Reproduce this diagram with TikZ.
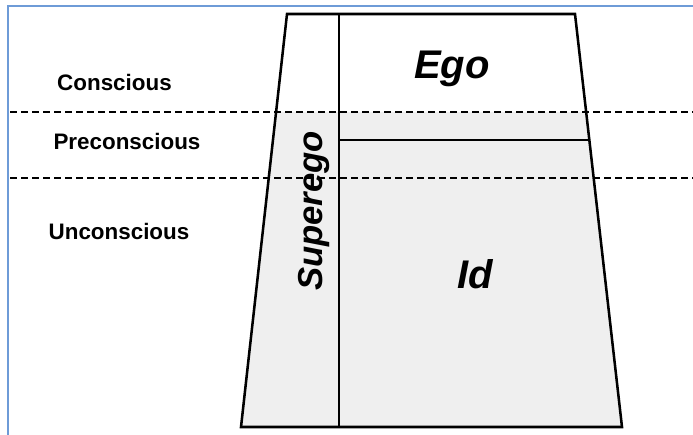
\documentclass[tikz,border=0pt]{standalone}
\usepackage{fontspec}
\setmainfont{Liberation Sans}
\definecolor{frameblue}{RGB}{110,155,215}
\definecolor{mindgray}{RGB}{239,239,239}

\begin{document}
\begin{tikzpicture}[x=0.75pt, y=-0.75pt,
		level/.style={font=\fontsize{16.8}{18}\selectfont\bfseries, inner sep=0pt, anchor=base},
		part/.style={font=\fontsize{30}{32}\selectfont\bfseries\itshape, inner sep=0pt, anchor=base},
		border/.style={line width=1.9pt, line join=miter},
		divide/.style={line width=1.6pt, dash pattern=on 5.25pt off 3pt}]
		\useasboundingbox (0,0) rectangle (693,435);
		% frame of the slide
		\draw[frameblue, line width=1.2pt] (8,435) -- (8,6) -- (693,6);
		% corners of the mind
		\coordinate (TopLeft)  at (287,14);
		\coordinate (TopRight) at (575,14);
		\coordinate (BotLeft)  at (241,427);
		\coordinate (BotRight) at (622,427);
		\coordinate (SplitTop) at (339,14);
		\coordinate (SplitBot) at (339,427);
		% shaded part below the conscious level
		\fill[mindgray] (276.1,112) -- (586.1,112) -- (BotRight) -- (BotLeft) -- cycle;
		\draw[border] (TopLeft) -- (TopRight) -- (BotRight) -- (BotLeft) -- cycle;
		\draw[border] (SplitTop) -- (SplitBot);
		\draw[border] (339,140) -- (589.3,140);
		% levels
		\draw[divide] (10,112) -- (693,112);
		\draw[divide] (10,178) -- (693,178);
		\path (114.5,91) node (Conscious) [level] {Conscious};
		\path (127,150) node (Preconscious) [level] {Preconscious};
		\path (119,239) node (Unconscious) [level] {Unconscious};
		% parts
		\path (452,79) node (Ego) [part] {Ego};
		\path (475,288) node (Id) [part] {Id};
		\path (322,211) node (Superego) [part, rotate=90,
			font=\fontsize{26}{28}\selectfont\bfseries\itshape] {Superego};
	\end{tikzpicture}
\end{document}
